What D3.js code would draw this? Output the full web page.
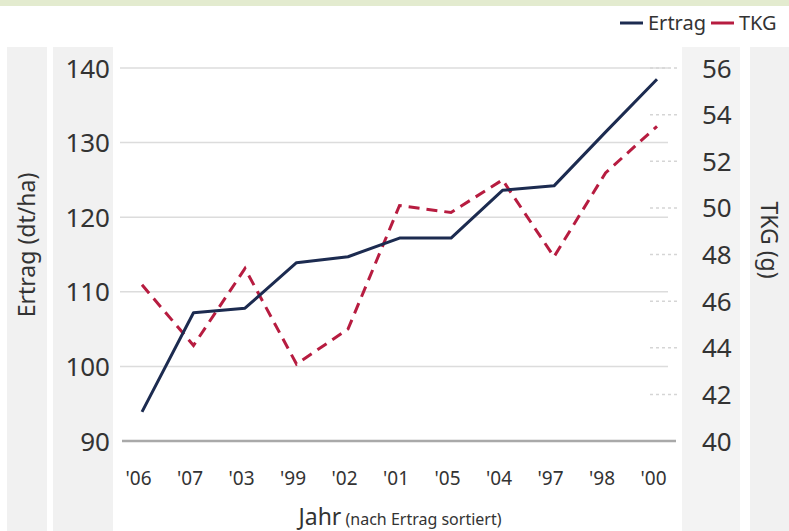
<!DOCTYPE html>
<html>
<head>
<meta charset="utf-8">
<script src="https://cdn.jsdelivr.net/npm/d3@7"></script>
<style>
body { margin: 0; background: #fff; }
svg text { font-family: "Noto Sans", "Open Sans", sans-serif; fill: #333; }
</style>
</head>
<body>
<svg id="chart" width="789" height="531"></svg>
<script>
// years, sorted by yield
var years = ["'06", "'07", "'03", "'99", "'02", "'01", "'05", "'04", "'97", "'98", "'00"];
var ertrag = [93.9, 107.2, 107.8, 113.9, 114.7, 117.2, 117.2, 123.6, 124.2, 131.4, 138.5];
var tkg = [46.7, 44.1, 47.4, 43.3, 44.8, 50.1, 49.8, 51.2, 47.9, 51.5, 53.5];
var leftTicks = [90, 100, 110, 120, 130, 140];
var rightTicks = [40, 42, 44, 46, 48, 50, 52, 54, 56];
var seriesNames = ["Ertrag", "TKG"];

var svg = d3.select("#chart"),
	margin = {top: 68, left: 142, bottom: 90, right: 132},
	width = +svg.attr("width"),
	height = +svg.attr("height");

var x = d3.scalePoint()
	.domain(years)
	.range([margin.left, width - margin.right]);

var yL = d3.scaleLinear()
	.domain([90, 140])
	.range([height - margin.bottom, margin.top]);

var yR = d3.scaleLinear()
	.domain([40, 56])
	.range([height - margin.bottom, margin.top]);

var color = d3.scaleOrdinal()
	.domain(seriesNames)
	.range(["#1c2b50", "#b71c40"]);

// top strip + grey label panels
svg.append("rect").attr("x", 0).attr("y", 0).attr("width", width).attr("height", 6).attr("fill", "#e3ebcf");
svg.append("rect").attr("x", 7).attr("y", 47).attr("width", 40).attr("height", height - 47).attr("fill", "#f1f1f1");
svg.append("rect").attr("x", 53).attr("y", 47).attr("width", 60).attr("height", height - 47).attr("fill", "#f1f1f1");
svg.append("rect").attr("x", 682).attr("y", 47).attr("width", 58).attr("height", height - 47).attr("fill", "#f3f3f3");
svg.append("rect").attr("x", 750).attr("y", 47).attr("width", 39).attr("height", height - 47).attr("fill", "#f1f1f1");

// left gridlines
svg.append("g")
	.selectAll("line")
	.data(leftTicks.slice(1))
	.join("line")
	.attr("x1", 120).attr("x2", 668)
	.attr("y1", d => yL(d)).attr("y2", d => yL(d))
	.attr("stroke", "#dcdcdc")
	.attr("stroke-width", 1.5);

// right dashed tick marks
svg.append("g")
	.selectAll("line")
	.data(rightTicks.slice(1))
	.join("line")
	.attr("x1", 650).attr("x2", 680)
	.attr("y1", d => yR(d)).attr("y2", d => yR(d))
	.attr("stroke", "#d5d5d5")
	.attr("stroke-width", 1.5)
	.attr("stroke-dasharray", "3,3");

// baseline
svg.append("line")
	.attr("x1", 122).attr("x2", 676)
	.attr("y1", yL(90)).attr("y2", yL(90))
	.attr("stroke", "#a9a9a9")
	.attr("stroke-width", 2.5);

var yAxisL = svg.append("g")
	.attr("transform", "translate(110,0)")
	.call(d3.axisLeft(yL).tickValues(leftTicks).tickSize(0).tickPadding(0));
yAxisL.select(".domain").remove();
yAxisL.selectAll("text").attr("font-size", 26).attr("dy", "0.35em");

var yAxisR = svg.append("g")
	.attr("transform", "translate(702,0)")
	.call(d3.axisRight(yR).tickValues(rightTicks).tickSize(0).tickPadding(0));
yAxisR.select(".domain").remove();
yAxisR.selectAll("text").attr("font-size", 26).attr("dy", "0.35em");

var xAxis = svg.append("g")
	.attr("transform", `translate(-4,${height - margin.bottom + 37})`)
	.call(d3.axisBottom(x).tickSize(0).tickPadding(0));
xAxis.select(".domain").remove();
xAxis.selectAll("text").attr("font-size", 19).attr("dy", "0.35em");

// axis titles
svg.append("text")
	.attr("transform", "translate(35,245) rotate(-90)")
	.attr("text-anchor", "middle")
	.attr("font-size", 23)
	.text("Ertrag (dt/ha)");

svg.append("text")
	.attr("transform", "translate(761,240) rotate(90)")
	.attr("text-anchor", "middle")
	.attr("font-size", 23)
	.text("TKG (g)");

var xt = svg.append("text")
	.attr("x", 400).attr("y", 525)
	.attr("text-anchor", "middle");
xt.append("tspan").attr("font-size", 23).text("Jahr");
xt.append("tspan").attr("font-size", 16).text(" (nach Ertrag sortiert)");

// lines
var lineL = d3.line().x((d, i) => x(years[i])).y(d => yL(d));
var lineR = d3.line().x((d, i) => x(years[i])).y(d => yR(d));

svg.append("path")
	.datum(tkg)
	.attr("d", lineR)
	.attr("fill", "none")
	.attr("stroke", color("TKG"))
	.attr("stroke-width", 3)
	.attr("stroke-dasharray", "11,7");

svg.append("path")
	.datum(ertrag)
	.attr("d", lineL)
	.attr("fill", "none")
	.attr("stroke", color("Ertrag"))
	.attr("stroke-width", 3)
	.attr("stroke-linejoin", "round");

// legend
var legend = svg.append("g").attr("transform", "translate(620,23)");
var lx = 0;
seriesNames.forEach(function(s) {
	legend.append("line")
		.attr("x1", lx).attr("x2", lx + 23)
		.attr("y1", 0).attr("y2", 0)
		.attr("stroke", color(s))
		.attr("stroke-width", 3);
	var t = legend.append("text")
		.attr("x", lx + 28).attr("y", 0)
		.attr("dy", "0.35em")
		.attr("font-size", 20)
		.text(s);
	lx += 28 + t.node().getComputedTextLength() + 5;
});
</script>
</body>
</html>
